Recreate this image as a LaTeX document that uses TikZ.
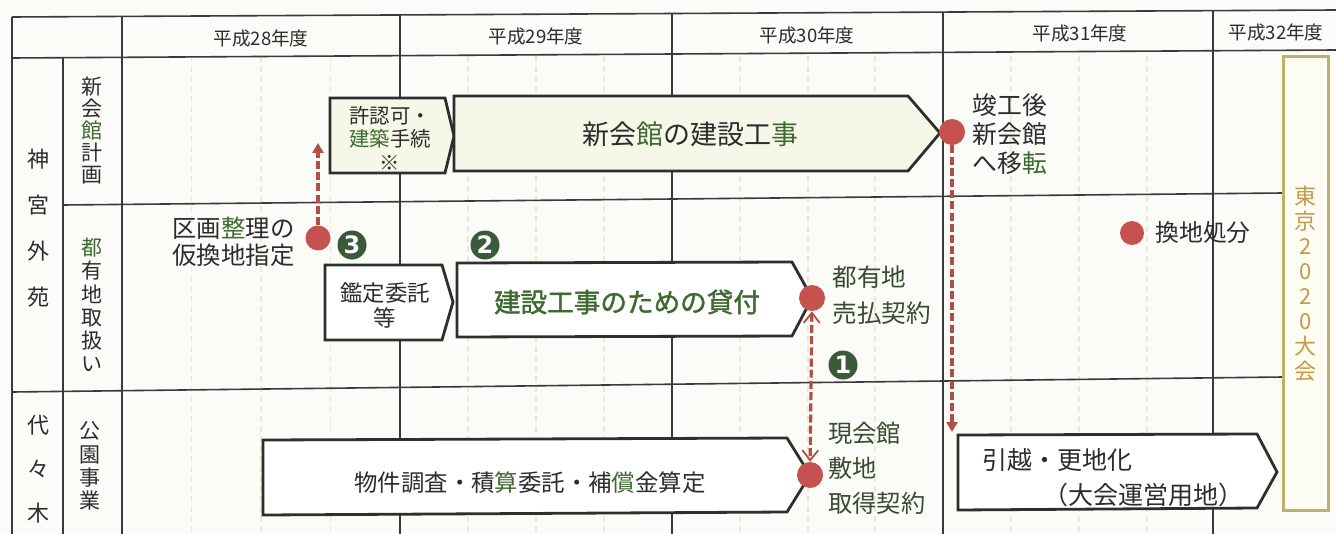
\documentclass[tikz,border=0pt]{standalone}
\usepackage{fontspec}
\usetikzlibrary{arrows.meta}
\newfontfamily\jp{Noto Sans CJK JP}
\newfontfamily\jpb[FakeBold=1.5]{Noto Sans CJK JP}
\newfontfamily\numf{DejaVu Sans}
\definecolor{paper}{HTML}{FBFBF7}
\definecolor{ink}{HTML}{2C2C2C}
\definecolor{gridc}{HTML}{3A3A3A}
\definecolor{boxline}{HTML}{2E2E2E}
\definecolor{faint}{HTML}{E9EBD6}
\definecolor{dotred}{HTML}{C5524F}
\definecolor{dashred}{HTML}{B04E48}
\definecolor{numgreen}{HTML}{3A5A3A}
\definecolor{txtgreen}{HTML}{3E6A30}
\definecolor{olive}{HTML}{3A4A30}
\definecolor{goldline}{HTML}{BDB06A}
\definecolor{goldtext}{HTML}{C49A48}
\definecolor{goldfill}{HTML}{FDFCF2}
\definecolor{boxfillg}{HTML}{F6F7E8}
\newcommand{\gch}[1]{\textcolor{txtgreen}{#1}}
\begin{document}
\begin{tikzpicture}[x=0.5pt,y=-0.5pt,
  every node/.style={font=\jp, text=ink, inner sep=0pt},
  tline/.style={draw=gridc, line width=0.8pt},
  fgrid/.style={draw=faint, line width=0.6pt, dash pattern=on 3pt off 2pt},
  stagebox/.style={draw=boxline, line width=1.4pt, fill=white, line join=miter},
  greenbox/.style={stagebox, fill=boxfillg},
  reddot/.style={circle, fill=dotred, minimum size=12.5pt, inner sep=0pt},
  dasharrow/.style={draw=dashred, line width=1.6pt, dash pattern=on 4pt off 1.6pt, -{Triangle[length=5pt,width=5.5pt]}},
  biarrow/.style={draw=dashred, line width=1.6pt, dash pattern=on 4pt off 1.6pt, {Straight Barb[length=5pt,width=8pt,line width=0.9pt]}-{Straight Barb[length=5pt,width=8pt,line width=0.9pt]}},
  numc/.style={circle, fill=numgreen, minimum size=14.5pt, text=white, font=\numf\bfseries\fontsize{12}{12}\selectfont},
  hdr/.style={font=\jp\fontsize{9.3}{11}\selectfont},
  vlab/.style={align=center},
  tokyobox/.style={draw=goldline, line width=1.5pt, fill=goldfill, minimum width=22.5pt, minimum height=226.5pt, align=center, text=goldtext, font=\jp\fontsize{11}{12.5}\selectfont}
]
\useasboundingbox (0,0) rectangle (1336,534);
\fill[paper] (0,0) rectangle (1336,534);

% faint quarter grid
\foreach \gx in {191.5,261,330.5,468,536,604,740,808,875,1011,1079,1147}
  \draw[fgrid] (\gx,56) -- (\gx,534);

% table lines
\draw[tline] (12,17) -- (1336,10);
\draw[tline] (12,58) -- (1336,50);
\draw[tline] (12,17) -- (12,534);
\draw[tline] (63,58) -- (63,534);
\draw[tline] (122,16) -- (122,534);
\draw[tline] (400,15) -- (400,534);
\draw[tline] (672,13.5) -- (672,534);
\draw[tline] (943,12) -- (943,534);
\draw[tline] (1213,10.7) -- (1213,534);
\draw[tline] (63,205) -- (1283,193);
\draw[tline] (12,392) -- (1283,377);

% header
\node[hdr] (h28) at (261,38) {平成28年度};
\node[hdr] (h29) at (536,36) {平成29年度};
\node[hdr] (h30) at (807,35) {平成30年度};
\node[hdr] (h31) at (1080,33) {平成31年度};
\node[hdr] (h32) at (1276,32) {平成32年度};

% left labels
\node[vlab, font=\jp\fontsize{11}{23}\selectfont] (jingu) at (38,228.5) {神\\宮\\外\\苑};
\node[vlab, font=\jp\fontsize{11}{22}\selectfont] (yoyogi) at (38,469) {代\\々\\木};
\node[vlab, font=\jp\fontsize{10.5}{11}\selectfont] (shinkai) at (92,131) {新\\会\\\gch{館}\\計\\画};
\node[vlab, font=\jp\fontsize{10.5}{11.6}\selectfont] (toyuchi) at (92,305) {\gch{都}\\有\\地\\取\\扱\\い};
\node[vlab, font=\jp\fontsize{10.5}{11.65}\selectfont] (koen) at (90,466) {公\\園\\事\\業};

% Tokyo 2020 box
\node[tokyobox] (tokyo) at (1305.5,283.5) {東\\京\\2\\0\\2\\0\\大\\会};

% stage boxes
\draw[greenbox] (330,98) -- (445,98) -- (454,136) -- (445,173) -- (330,173) -- cycle;
\draw[greenbox] (454,96) -- (908,96) -- (940,133) -- (908,171) -- (454,171) -- cycle;
\draw[stagebox] (325,265) -- (442,265) -- (453,302) -- (442,340) -- (325,340) -- cycle;
\draw[stagebox] (457,263) -- (792,262) -- (812,298) -- (792,336) -- (457,337) -- cycle;
\draw[stagebox] (263,440) -- (787,438) -- (810,475) -- (787,512) -- (263,515) -- cycle;
\draw[stagebox] (958,435) -- (1257,434) -- (1277,472) -- (1257,508) -- (958,510) -- cycle;

% box texts
\node[align=center, font=\jp\fontsize{10.2}{11.75}\selectfont] (kyoninka) at (390,138) {許認可・\\\gch{建築}手続\\※};
\node[font=\jp\fontsize{13.5}{15}\selectfont] (kensetsu) at (690,134) {新会\gch{館}の建設工\gch{事}};
\node[align=center, font=\jp\fontsize{11.2}{12.5}\selectfont] (kantei) at (385,305) {鑑定委託\\等};
\node[font=\jpb\fontsize{13.3}{15}\selectfont, text=txtgreen] (kashitsuke) at (627,302) {建設工事のための貸付};
\node[font=\jp\fontsize{11.7}{13}\selectfont] (bukken) at (530,483) {物件調査・積\gch{算}委託・補\gch{償}金算定};
\node[anchor=west, font=\jp\fontsize{12.5}{14}\selectfont] (hikkoshi) at (982,460) {引越・更地化};
\node[anchor=west, font=\jp\fontsize{12.5}{14}\selectfont] (taikai) at (1043,495) {（大会運営用地）};

% milestone dots
\node[reddot] (dA) at (318,238) {};
\node[reddot, minimum size=13pt] (dB) at (952,132) {};
\node[reddot, minimum size=13pt] (dC) at (812,298) {};
\node[reddot, minimum size=13pt] (dD) at (810,475) {};
\node[reddot, minimum size=12pt] (dE) at (1132,233) {};

% milestone texts
\node[anchor=west, align=left, font=\jp\fontsize{12.2}{13.5}\selectfont] (kukaku) at (172,241.5) {区画\gch{整}理の\\仮換地指定};
\node[anchor=west, align=left, font=\jp\fontsize{12.4}{14.5}\selectfont] (shunko) at (972,134) {竣工後\\新会館\\へ移\gch{転}};
\node[anchor=west, align=left, font=\jp\fontsize{12.3}{18}\selectfont, text=olive] (uriharai) at (832,295) {都有地\\売払契約};
\node[anchor=west, align=left, font=\jp\fontsize{12.1}{17.5}\selectfont, text=olive] (genkaikan) at (828,468) {現会館\\敷地\\取得契約};
\node[anchor=west, font=\jp\fontsize{11.9}{13}\selectfont] (kanchi) at (1155,233) {換地処分};

% numbered markers
\node[numc] (n1) at (843,365) {1};
\node[numc] (n2) at (485,245) {2};
\node[numc] (n3) at (352,245) {3};

% connectors
\coordinate (tA) at (318,143);
\coordinate (tB) at (952,432);
\draw[dasharrow] (dA) -- (tA);
\draw[dasharrow] (dB) -- (tB);
\draw[biarrow] (dC) -- (dD);
\end{tikzpicture}
\end{document}
